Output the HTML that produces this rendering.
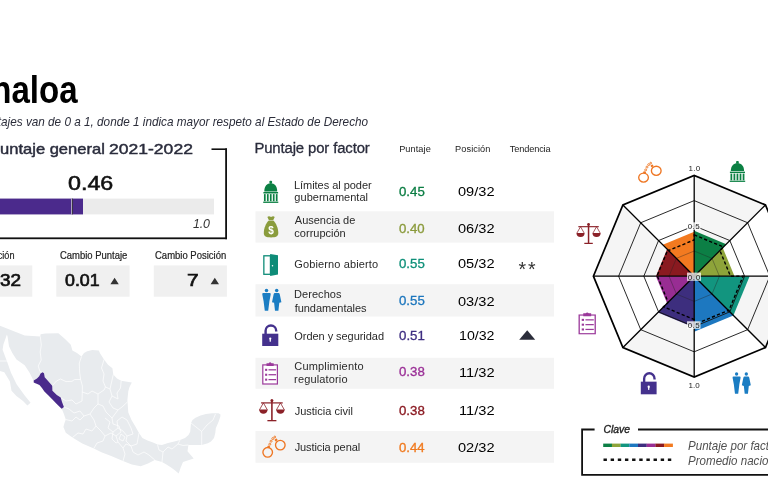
<!DOCTYPE html>
<html lang="es"><head><meta charset="utf-8"><title>Sinaloa</title>
<style>
html,body{margin:0;padding:0;background:#fff;}
body{width:768px;height:486px;position:relative;overflow:hidden;font-family:"Liberation Sans",sans-serif;}
.t{position:absolute;white-space:nowrap;line-height:1;}
.r{position:absolute;}
svg{position:absolute;left:0;top:0;overflow:visible;}
</style></head><body>
<svg width="768" height="486" viewBox="0 0 768 486"><rect x="255.5" y="211.3" width="298.50" height="31.30" fill="#f4f4f4"/><rect x="255.5" y="284.2" width="298.50" height="32.30" fill="#f4f4f4"/><rect x="255.5" y="357.8" width="298.50" height="31.00" fill="#f4f4f4"/><rect x="255.5" y="431" width="298.50" height="31.80" fill="#f4f4f4"/><rect x="211.5" y="148.4" width="15.50" height="1.60" fill="#111"/><rect x="225.2" y="148.4" width="1.80" height="90.80" fill="#111"/><rect x="-5" y="237.4" width="232.00" height="1.80" fill="#111"/><rect x="-29" y="198.6" width="243.00" height="15.80" fill="#ebebeb"/><rect x="-29" y="198.6" width="112.00" height="15.80" fill="#4b2a8c"/><rect x="71.3" y="198.6" width="0.80" height="15.80" fill="#d8d8d8"/><rect x="72.2" y="198.6" width="0.80" height="15.80" fill="#333"/><rect x="-5" y="265.4" width="37.30" height="31.30" fill="#f0f0f0"/><rect x="56.3" y="265.4" width="73.30" height="31.30" fill="#f0f0f0"/><rect x="153.8" y="265.4" width="73.10" height="31.30" fill="#f0f0f0"/></svg>
<div class="t" style="left:-39.96px;top:69px;line-height:42px;font-size:38px;color:#000;font-weight:bold;transform:scaleX(0.8700);transform-origin:0 50%;">Sinaloa</div>
<div class="t" style="left:-43.55px;top:114px;line-height:15px;font-size:12.8px;color:#2b2d3a;font-style:italic;transform:scaleX(0.9180);transform-origin:0 50%;">Los puntajes van de 0 a 1, donde 1 indica mayor respeto al Estado de Derecho</div>
<div class="t" style="left:-11.25px;top:140px;line-height:17px;font-size:15px;color:#2a2c3c;-webkit-text-stroke:0.45px #2a2c3c;transform:scaleX(1.1023);transform-origin:0 50%;">Puntaje general</div>
<div class="t" style="left:109.12px;top:140px;line-height:17px;font-size:15px;color:#2a2c3c;-webkit-text-stroke:0.45px #2a2c3c;transform:scaleX(1.1695);transform-origin:0 50%;">2021-2022</div>
<div class="t" style="left:67.97px;top:172px;line-height:22px;font-size:19.6px;color:#111;-webkit-text-stroke:0.55px #111;transform:scaleX(1.1873);transform-origin:0 50%;">0.46</div>
<div class="t" style="left:192.89px;top:217px;line-height:14px;font-size:12.4px;color:#333;font-style:italic;letter-spacing:-0.132px;">1.0</div>
<div class="t" style="left:-20.51px;top:250px;line-height:11px;font-size:10.2px;color:#222;-webkit-text-stroke:0.2px #222;transform:scaleX(0.8950);transform-origin:0 50%;">Posición</div>
<div class="t" style="left:60.03px;top:250px;line-height:11px;font-size:10.2px;color:#222;-webkit-text-stroke:0.2px #222;transform:scaleX(0.9287);transform-origin:0 50%;">Cambio Puntaje</div>
<div class="t" style="left:155.13px;top:250px;line-height:11px;font-size:10.2px;color:#222;-webkit-text-stroke:0.2px #222;transform:scaleX(0.9313);transform-origin:0 50%;">Cambio Posición</div>
<div class="t" style="left:-0.26px;top:270px;line-height:20px;font-size:17.4px;color:#111;-webkit-text-stroke:0.7px #111;transform:scaleX(1.0874);transform-origin:0 50%;">32</div>
<div class="t" style="left:65.09px;top:270px;line-height:20px;font-size:17.4px;color:#111;-webkit-text-stroke:0.7px #111;transform:scaleX(1.0227);transform-origin:0 50%;">0.01</div>
<div class="t" style="left:186.86px;top:270px;line-height:20px;font-size:17.4px;color:#111;-webkit-text-stroke:0.7px #111;transform:scaleX(1.1999);transform-origin:0 50%;">7</div>
<svg width="768" height="486" viewBox="0 0 768 486"><path d="M110.4 284.3 L118.8 284.3 L114.6 277.8 Z M210.6 284.3 L219 284.3 L214.8 277.8 Z" fill="#333"/><path d="M519.2 339.7 L535.2 339.7 L527.2 330.3 Z" fill="#2b2d3a"/></svg>
<div class="t" style="left:254.41px;top:140px;line-height:16px;font-size:14.9px;color:#2a2c3c;letter-spacing:-0.126px;-webkit-text-stroke:0.3px #2a2c3c;">Puntaje por factor</div>
<div class="t" style="left:399.16px;top:144px;line-height:10px;font-size:9.2px;color:#222;letter-spacing:0.077px;">Puntaje</div>
<div class="t" style="left:455.06px;top:144px;line-height:10px;font-size:9.2px;color:#222;letter-spacing:0.094px;">Posición</div>
<div class="t" style="left:509.72px;top:144px;line-height:10px;font-size:9.2px;color:#222;letter-spacing:-0.121px;">Tendencia</div>
<div class="t" style="left:293.92px;top:179px;line-height:12px;font-size:11.0px;color:#2a2a2a;letter-spacing:-0.031px;">Límites al poder</div>
<div class="t" style="left:294.36px;top:191px;line-height:12px;font-size:11.0px;color:#2a2a2a;letter-spacing:0.024px;">gubernamental</div>
<div class="t" style="left:398.87px;top:185px;line-height:14px;font-size:12.4px;color:#0b7d43;-webkit-text-stroke:0.3px #0b7d43;transform:scaleX(1.0681);transform-origin:0 50%;">0.45</div>
<div class="t" style="left:457.82px;top:184px;line-height:15px;font-size:12.8px;color:#000;transform:scaleX(1.1411);transform-origin:0 50%;">09/32</div>
<div class="t" style="left:294.80px;top:214px;line-height:12px;font-size:11.0px;color:#2a2a2a;">Ausencia de</div>
<div class="t" style="left:294.36px;top:227px;line-height:12px;font-size:11.0px;color:#2a2a2a;">corrupción</div>
<div class="t" style="left:398.87px;top:222px;line-height:14px;font-size:12.4px;color:#8a9a3b;-webkit-text-stroke:0.3px #8a9a3b;transform:scaleX(1.0652);transform-origin:0 50%;">0.40</div>
<div class="t" style="left:457.82px;top:221px;line-height:15px;font-size:12.8px;color:#000;transform:scaleX(1.1411);transform-origin:0 50%;">06/32</div>
<div class="t" style="left:294.25px;top:258px;line-height:12px;font-size:11.0px;color:#2a2a2a;letter-spacing:0.129px;">Gobierno abierto</div>
<div class="t" style="left:398.87px;top:257px;line-height:14px;font-size:12.4px;color:#0f9079;-webkit-text-stroke:0.3px #0f9079;transform:scaleX(1.0681);transform-origin:0 50%;">0.55</div>
<div class="t" style="left:457.82px;top:256px;line-height:15px;font-size:12.8px;color:#000;transform:scaleX(1.1411);transform-origin:0 50%;">05/32</div>
<div class="t" style="left:293.92px;top:288px;line-height:12px;font-size:11.0px;color:#2a2a2a;letter-spacing:0.084px;">Derechos</div>
<div class="t" style="left:294.63px;top:302px;line-height:12px;font-size:11.0px;color:#2a2a2a;letter-spacing:-0.018px;">fundamentales</div>
<div class="t" style="left:398.87px;top:294px;line-height:14px;font-size:12.4px;color:#1c76bd;-webkit-text-stroke:0.3px #1c76bd;transform:scaleX(1.0681);transform-origin:0 50%;">0.55</div>
<div class="t" style="left:457.82px;top:294px;line-height:15px;font-size:12.8px;color:#000;transform:scaleX(1.1411);transform-origin:0 50%;">03/32</div>
<div class="t" style="left:294.31px;top:330px;line-height:12px;font-size:11.0px;color:#2a2a2a;letter-spacing:-0.048px;">Orden y seguridad</div>
<div class="t" style="left:398.87px;top:329px;line-height:14px;font-size:12.4px;color:#3f2f82;-webkit-text-stroke:0.3px #3f2f82;transform:scaleX(1.0709);transform-origin:0 50%;">0.51</div>
<div class="t" style="left:458.84px;top:328px;line-height:15px;font-size:12.8px;color:#000;transform:scaleX(1.1086);transform-origin:0 50%;">10/32</div>
<div class="t" style="left:294.25px;top:360px;line-height:12px;font-size:11.0px;color:#2a2a2a;letter-spacing:0.189px;">Cumplimiento</div>
<div class="t" style="left:294.09px;top:373px;line-height:12px;font-size:11.0px;color:#2a2a2a;letter-spacing:0.148px;">regulatorio</div>
<div class="t" style="left:398.87px;top:365px;line-height:14px;font-size:12.4px;color:#9a2f96;-webkit-text-stroke:0.3px #9a2f96;transform:scaleX(1.0681);transform-origin:0 50%;">0.38</div>
<div class="t" style="left:458.80px;top:365px;line-height:15px;font-size:12.8px;color:#000;transform:scaleX(1.1447);transform-origin:0 50%;">11/32</div>
<div class="t" style="left:294.63px;top:405px;line-height:12px;font-size:11.0px;color:#2a2a2a;letter-spacing:0.012px;">Justicia civil</div>
<div class="t" style="left:398.87px;top:404px;line-height:14px;font-size:12.4px;color:#8b1a22;-webkit-text-stroke:0.3px #8b1a22;transform:scaleX(1.0681);transform-origin:0 50%;">0.38</div>
<div class="t" style="left:458.80px;top:403px;line-height:15px;font-size:12.8px;color:#000;transform:scaleX(1.1447);transform-origin:0 50%;">11/32</div>
<div class="t" style="left:294.63px;top:441px;line-height:12px;font-size:11.0px;color:#2a2a2a;letter-spacing:-0.087px;">Justicia penal</div>
<div class="t" style="left:398.87px;top:441px;line-height:14px;font-size:12.4px;color:#f07a1f;-webkit-text-stroke:0.3px #f07a1f;transform:scaleX(1.0624);transform-origin:0 50%;">0.44</div>
<div class="t" style="left:457.82px;top:440px;line-height:15px;font-size:12.8px;color:#000;transform:scaleX(1.1411);transform-origin:0 50%;">02/32</div>
<div class="t" style="left:518.61px;top:258px;line-height:22px;font-size:19.5px;color:#333;letter-spacing:1.775px;">**</div>
<svg width="768" height="486" viewBox="0 0 768 486">
<path d="M694.20 276.20 L694.20 175.40 L765.48 204.92 Z" fill="#f5f5f5"/>
<path d="M694.20 276.20 L795.00 276.20 L765.48 347.48 Z" fill="#f5f5f5"/>
<path d="M694.20 276.20 L694.20 377.00 L622.92 347.48 Z" fill="#f5f5f5"/>
<path d="M694.20 276.20 L593.40 276.20 L622.92 204.92 Z" fill="#f5f5f5"/>
<path d="M694.20 276.20 L694.20 230.84 L726.27 244.13 Z" fill="#0c7f45"/>
<path d="M694.20 276.20 L722.71 247.69 L734.52 276.20 Z" fill="#8ea43a"/>
<path d="M694.20 276.20 L749.64 276.20 L733.40 315.40 Z" fill="#12957f"/>
<path d="M694.20 276.20 L733.40 315.40 L694.20 331.64 Z" fill="#1d78c0"/>
<path d="M694.20 276.20 L694.20 327.61 L657.85 312.55 Z" fill="#3d2e7e"/>
<path d="M694.20 276.20 L667.11 303.29 L655.90 276.20 Z" fill="#982d93"/>
<path d="M694.20 276.20 L655.90 276.20 L667.11 249.11 Z" fill="#8a1a20"/>
<path d="M694.20 276.20 L662.84 244.84 L694.20 231.85 Z" fill="#f37a20"/>
<path d="M719.40 276.20 L712.02 258.38 L694.20 251.00 L676.38 258.38 L669.00 276.20 L676.38 294.02 L694.20 301.40 L712.02 294.02 Z" fill="none" stroke="#222" stroke-width="0.7" stroke-opacity="0.55"/>
<path d="M744.60 276.20 L729.84 240.56 L694.20 225.80 L658.56 240.56 L643.80 276.20 L658.56 311.84 L694.20 326.60 L729.84 311.84 Z" fill="none" stroke="#111" stroke-width="0.9" stroke-opacity="1"/>
<path d="M769.80 276.20 L747.66 222.74 L694.20 200.60 L640.74 222.74 L618.60 276.20 L640.74 329.66 L694.20 351.80 L747.66 329.66 Z" fill="none" stroke="#111" stroke-width="0.9" stroke-opacity="1"/>
<path d="M694.2 276.2 L795.00 276.20" stroke="#000" stroke-width="1.3"/>
<path d="M694.2 276.2 L765.48 204.92" stroke="#000" stroke-width="1.3"/>
<path d="M694.2 276.2 L694.20 175.40" stroke="#000" stroke-width="1.3"/>
<path d="M694.2 276.2 L622.92 204.92" stroke="#000" stroke-width="1.3"/>
<path d="M694.2 276.2 L593.40 276.20" stroke="#000" stroke-width="1.3"/>
<path d="M694.2 276.2 L622.92 347.48" stroke="#000" stroke-width="1.3"/>
<path d="M694.2 276.2 L694.20 377.00" stroke="#000" stroke-width="1.3"/>
<path d="M694.2 276.2 L765.48 347.48" stroke="#000" stroke-width="1.3"/>
<path d="M795.00 276.20 L765.48 204.92 L694.20 175.40 L622.92 204.92 L593.40 276.20 L622.92 347.48 L694.20 377.00 L765.48 347.48 Z" fill="none" stroke="#000" stroke-width="1.7" stroke-linejoin="miter"/>
<path d="M694.20 234.87 L723.42 246.98 L719.86 250.54 L730.49 276.20 L743.09 276.20 L728.77 310.77 L728.41 310.41 L694.20 324.58 L694.20 319.54 L663.55 306.85 L668.18 302.22 L657.41 276.20 L656.90 276.20 L667.83 249.83 L668.54 250.54 L694.20 239.91 Z" fill="none" stroke="#000" stroke-width="1.4" stroke-dasharray="3.2 2.2"/>
<rect x="687" y="272.6" width="14" height="8.2" fill="#fff" fill-opacity="0.75"/>
<rect x="687" y="222.3" width="13.5" height="7.5" fill="#fff" fill-opacity="0.8"/>
<rect x="687" y="321.3" width="13.5" height="7.5" fill="#fff" fill-opacity="0.8"/>
</svg>
<div class="t" style="left:688.60px;top:164px;line-height:9px;font-size:8.0px;color:#222;letter-spacing:0.180px;">1.0</div>
<div class="t" style="left:687.68px;top:222px;line-height:9px;font-size:8.0px;color:#222;letter-spacing:0.460px;">0.5</div>
<div class="t" style="left:687.68px;top:273px;line-height:9px;font-size:8.0px;color:#222;letter-spacing:0.740px;">0.0</div>
<div class="t" style="left:687.68px;top:321px;line-height:9px;font-size:8.0px;color:#222;letter-spacing:0.460px;">0.5</div>
<div class="t" style="left:688.40px;top:381px;line-height:9px;font-size:8.0px;color:#222;letter-spacing:0.130px;">1.0</div>
<svg width="768" height="486" viewBox="0 0 768 486">
<svg x="263.2" y="180.7" width="15.10" height="22.20" viewBox="0 0 15 22.2" preserveAspectRatio="none" overflow="visible"><g fill="#0b8043"><rect x="6.2" y="0" width="2.6" height="3" rx="0.9"/><path d="M1.1 10.7 C1.1 5.2 3.8 2.5 7.5 2.5 C11.2 2.5 13.9 5.2 13.9 10.7 Z"/><rect x="0.2" y="11.3" width="14.6" height="1.5"/><rect x="0.75" y="13.4" width="1.7" height="7.1"/><rect x="3.70" y="13.4" width="1.7" height="7.1"/><rect x="6.65" y="13.4" width="1.7" height="7.1"/><rect x="9.60" y="13.4" width="1.7" height="7.1"/><rect x="12.55" y="13.4" width="1.7" height="7.1"/><rect x="0" y="20.9" width="15" height="1.3"/></g></svg>
<svg x="263.8" y="216" width="14.50" height="21.40" viewBox="0 0 14.5 21.4" preserveAspectRatio="none" overflow="visible"><g fill="#8a9c3d"><path d="M3.6 0.9 Q5 -0.2 7.25 0.9 Q9.5 -0.2 10.9 0.9 L9.5 3.9 L5 3.9 Z"/><path d="M5 4.5 L9.5 4.5 C12.2 7 14.5 12.2 14.5 17 C14.5 20.4 12 21.4 7.25 21.4 C2.5 21.4 0 20.4 0 17 C0 12.2 2.3 7 5 4.5 Z"/></g><text x="7.25" y="17.7" font-family="Liberation Sans, sans-serif" font-weight="bold" font-size="10" text-anchor="middle" fill="#fff">$</text></svg>
<svg x="263.2" y="254" width="14.80" height="22.00" viewBox="0 0 14.8 22" preserveAspectRatio="none" overflow="visible"><rect x="0.65" y="1.8" width="6.6" height="18.5" fill="#fff" stroke="#0e8c78" stroke-width="1.3"/><path d="M6.9 0 L14.8 1.2 L14.8 20.6 L6.9 22 Z" fill="#0e8c78"/><circle cx="9.3" cy="11.8" r="0.75" fill="#fff"/></svg>
<svg x="261.9" y="288.6" width="19.70" height="22.20" viewBox="0 0 19.7 22.2" preserveAspectRatio="none" overflow="visible"><g fill="#1b7dc3"><circle cx="4.6" cy="2" r="1.75"/><path d="M1.4 4.5 L7.8 4.5 Q9 4.5 8.8 5.8 L7.5 12.6 L6.3 22.2 L2.9 22.2 L1.7 12.6 L0.4 5.8 Q0.2 4.5 1.4 4.5 Z"/><circle cx="14.8" cy="2" r="1.75"/><path d="M13 4.5 L16.6 4.5 Q17.6 4.5 17.9 5.8 L19.5 13.6 L17.4 14.2 L16.5 22.2 L13.1 22.2 L12.2 14.2 L10.1 13.6 L11.7 5.8 Q12 4.5 13 4.5 Z"/></g></svg>
<svg x="262.2" y="324.3" width="16.10" height="21.70" viewBox="0 0 16.1 21.7" preserveAspectRatio="none" overflow="visible"><rect x="0" y="9.4" width="16.1" height="12.3" fill="#44318d"/><path d="M3.4 9.8 L3.4 6.5 A5.3 5.3 0 0 1 14 6.5 L14 7.2" fill="none" stroke="#44318d" stroke-width="2.4"/><circle cx="8.05" cy="14.3" r="1.15" fill="#fff"/><rect x="7.4" y="14.6" width="1.3" height="2.8" fill="#fff"/></svg>
<svg x="261.9" y="362" width="16.40" height="22.60" viewBox="0 0 16.4 22.6" preserveAspectRatio="none" overflow="visible"><rect x="0.9" y="2.9" width="14.6" height="19.1" fill="#fff" stroke="#9b3a9b" stroke-width="1.2"/><g fill="#9b3a9b"><path d="M4.6 1.2 L6.8 1.2 Q8.2 -0.6 9.6 1.2 L11.8 1.2 L11.8 4.1 L4.6 4.1 Z"/><rect x="3.2" y="6.80" width="2.1" height="2.1"/><rect x="6.6" y="7.20" width="7.6" height="1.25"/><rect x="3.2" y="11.70" width="2.1" height="2.1"/><rect x="6.6" y="12.10" width="7.6" height="1.25"/><rect x="3.2" y="16.60" width="2.1" height="2.1"/><rect x="6.6" y="17.00" width="7.6" height="1.25"/></g></svg>
<svg x="258.9" y="399" width="26.00" height="22.30" viewBox="0 0 26.6 22.3" preserveAspectRatio="none" overflow="visible"><g fill="#8b2128"><circle cx="13.3" cy="1.5" r="1.5"/><rect x="12.5" y="1.5" width="1.6" height="20"/><rect x="2.2" y="3.3" width="22.2" height="1.2"/><rect x="8.7" y="21" width="9.2" height="1.3"/></g><path d="M4.6 3.9 L0.5999999999999996 10.8 M4.6 3.9 L8.6 10.8" fill="none" stroke="#8b2128" stroke-width="0.8"/><path d="M0.1999999999999993 10.6 L9.0 10.6 A4.4 4.2 0 0 1 0.1999999999999993 10.6 Z" fill="#8b2128"/><path d="M22 3.9 L18 10.8 M22 3.9 L26 10.8" fill="none" stroke="#8b2128" stroke-width="0.8"/><path d="M17.6 10.6 L26.4 10.6 A4.4 4.2 0 0 1 17.6 10.6 Z" fill="#8b2128"/></svg>
<svg x="262.2" y="435.6" width="23.50" height="22.20" viewBox="0 0 23.5 22.2" preserveAspectRatio="none" overflow="visible"><g fill="none" stroke="#ee7623" stroke-width="1.35"><circle cx="5.5" cy="16.7" r="4.8"/><circle cx="18.1" cy="9.5" r="4.8"/><circle cx="7.6" cy="8.6" r="1" stroke-width="0.9"/><circle cx="8.9" cy="5.6" r="1" stroke-width="0.9"/><circle cx="10.6" cy="3.0" r="1" stroke-width="0.9"/><circle cx="12.6" cy="1.4" r="0.9" stroke-width="0.9"/></g><g fill="#ee7623"><rect x="5.2" y="10.2" width="2.6" height="2.2" rx="0.5" transform="rotate(20 6.5 11.3)"/><rect x="12.6" y="3.2" width="2.6" height="2.2" rx="0.5" transform="rotate(-35 13.9 4.3)"/></g></svg>
<svg x="729.7" y="161" width="15.50" height="20.90" viewBox="0 0 15 22.2" preserveAspectRatio="none" overflow="visible"><g fill="#0b8043"><rect x="6.2" y="0" width="2.6" height="3" rx="0.9"/><path d="M1.1 10.7 C1.1 5.2 3.8 2.5 7.5 2.5 C11.2 2.5 13.9 5.2 13.9 10.7 Z"/><rect x="0.2" y="11.3" width="14.6" height="1.5"/><rect x="0.75" y="13.4" width="1.7" height="7.1"/><rect x="3.70" y="13.4" width="1.7" height="7.1"/><rect x="6.65" y="13.4" width="1.7" height="7.1"/><rect x="9.60" y="13.4" width="1.7" height="7.1"/><rect x="12.55" y="13.4" width="1.7" height="7.1"/><rect x="0" y="20.9" width="15" height="1.3"/></g></svg>
<svg x="732.2" y="372" width="18.80" height="21.70" viewBox="0 0 19.7 22.2" preserveAspectRatio="none" overflow="visible"><g fill="#1b7dc3"><circle cx="4.6" cy="2" r="1.75"/><path d="M1.4 4.5 L7.8 4.5 Q9 4.5 8.8 5.8 L7.5 12.6 L6.3 22.2 L2.9 22.2 L1.7 12.6 L0.4 5.8 Q0.2 4.5 1.4 4.5 Z"/><circle cx="14.8" cy="2" r="1.75"/><path d="M13 4.5 L16.6 4.5 Q17.6 4.5 17.9 5.8 L19.5 13.6 L17.4 14.2 L16.5 22.2 L13.1 22.2 L12.2 14.2 L10.1 13.6 L11.7 5.8 Q12 4.5 13 4.5 Z"/></g></svg>
<svg x="640.8" y="372" width="15.80" height="22.30" viewBox="0 0 16.1 21.7" preserveAspectRatio="none" overflow="visible"><rect x="0" y="9.4" width="16.1" height="12.3" fill="#44318d"/><path d="M3.4 9.8 L3.4 6.5 A5.3 5.3 0 0 1 14 6.5 L14 7.2" fill="none" stroke="#44318d" stroke-width="2.4"/><circle cx="8.05" cy="14.3" r="1.15" fill="#fff"/><rect x="7.4" y="14.6" width="1.3" height="2.8" fill="#fff"/></svg>
<svg x="578.2" y="312.2" width="18.00" height="22.10" viewBox="0 0 16.4 22.6" preserveAspectRatio="none" overflow="visible"><rect x="0.9" y="2.9" width="14.6" height="19.1" fill="#fff" stroke="#9b3a9b" stroke-width="1.2"/><g fill="#9b3a9b"><path d="M4.6 1.2 L6.8 1.2 Q8.2 -0.6 9.6 1.2 L11.8 1.2 L11.8 4.1 L4.6 4.1 Z"/><rect x="3.2" y="6.80" width="2.1" height="2.1"/><rect x="6.6" y="7.20" width="7.6" height="1.25"/><rect x="3.2" y="11.70" width="2.1" height="2.1"/><rect x="6.6" y="12.10" width="7.6" height="1.25"/><rect x="3.2" y="16.60" width="2.1" height="2.1"/><rect x="6.6" y="17.00" width="7.6" height="1.25"/></g></svg>
<svg x="576.3" y="223" width="24.50" height="21.00" viewBox="0 0 26.6 22.3" preserveAspectRatio="none" overflow="visible"><g fill="#8b2128"><circle cx="13.3" cy="1.5" r="1.5"/><rect x="12.5" y="1.5" width="1.6" height="20"/><rect x="2.2" y="3.3" width="22.2" height="1.2"/><rect x="8.7" y="21" width="9.2" height="1.3"/></g><path d="M4.6 3.9 L0.5999999999999996 10.8 M4.6 3.9 L8.6 10.8" fill="none" stroke="#8b2128" stroke-width="0.8"/><path d="M0.1999999999999993 10.6 L9.0 10.6 A4.4 4.2 0 0 1 0.1999999999999993 10.6 Z" fill="#8b2128"/><path d="M22 3.9 L18 10.8 M22 3.9 L26 10.8" fill="none" stroke="#8b2128" stroke-width="0.8"/><path d="M17.6 10.6 L26.4 10.6 A4.4 4.2 0 0 1 17.6 10.6 Z" fill="#8b2128"/></svg>
<svg x="638" y="161.8" width="23.70" height="21.00" viewBox="0 0 23.5 22.2" preserveAspectRatio="none" overflow="visible"><g fill="none" stroke="#ee7623" stroke-width="1.35"><circle cx="5.5" cy="16.7" r="4.8"/><circle cx="18.1" cy="9.5" r="4.8"/><circle cx="7.6" cy="8.6" r="1" stroke-width="0.9"/><circle cx="8.9" cy="5.6" r="1" stroke-width="0.9"/><circle cx="10.6" cy="3.0" r="1" stroke-width="0.9"/><circle cx="12.6" cy="1.4" r="0.9" stroke-width="0.9"/></g><g fill="#ee7623"><rect x="5.2" y="10.2" width="2.6" height="2.2" rx="0.5" transform="rotate(20 6.5 11.3)"/><rect x="12.6" y="3.2" width="2.6" height="2.2" rx="0.5" transform="rotate(-35 13.9 4.3)"/></g></svg>
</svg>
<svg width="768" height="486" viewBox="0 0 768 486">
<path d="M-2.00 325.00 L0.00 325.80 L24.70 335.60 L40.30 336.50 L40.60 334.20 L45.30 333.50 L58.40 333.30 L65.00 339.00 L70.80 344.70 L72.40 350.50 L77.00 353.00 L81.50 356.50 L84.00 353.00 L87.20 351.30 L92.20 350.00 L98.80 350.50 L100.00 353.30 L104.00 359.50 L108.00 364.80 L112.40 368.30 L113.30 374.50 L117.00 378.50 L121.20 380.70 L131.80 382.40 L129.50 387.00 L128.30 391.30 L127.40 400.00 L128.30 412.40 L131.50 420.00 L135.40 426.50 L139.00 433.00 L142.40 438.00 L147.50 440.50 L153.00 442.40 L157.50 444.60 L162.00 445.00 L168.00 443.00 L174.30 441.60 L180.00 440.00 L185.00 438.00 L188.50 435.00 L190.20 431.80 L191.00 423.00 L192.50 420.00 L195.50 417.70 L200.50 415.50 L206.00 414.00 L212.00 413.20 L218.50 413.30 L220.50 414.50 L220.30 416.80 L218.50 422.00 L215.80 428.30 L215.30 433.00 L214.00 438.00 L211.00 441.50 L207.90 443.30 L201.70 445.00 L188.40 445.00 L187.50 451.30 L193.70 458.40 L183.00 462.00 L180.50 468.00 L178.70 473.40 L174.50 470.00 L170.70 467.20 L166.00 464.30 L162.00 462.00 L154.80 460.00 L148.00 463.50 L140.70 466.30 L131.80 464.60 L123.00 461.00 L110.60 455.70 L102.00 452.50 L93.80 448.50 L82.30 443.60 L72.40 437.60 L65.80 432.70 L63.40 427.00 L64.50 423.00 L65.80 419.50 L63.50 413.00 L61.70 408.80 L52.70 399.80 L44.40 391.50 L39.50 385.00 L33.70 381.00 L29.60 372.70 L24.70 365.30 L16.50 359.50 L12.30 353.00 L9.00 346.30 L7.60 336.80 L6.90 334.60 L5.60 338.20 L3.40 344.50 L2.60 349.70 L7.40 362.50 L11.00 372.70 L16.60 384.20 L24.70 395.40 L30.60 402.80 L27.40 405.60 L23.00 400.90 L16.40 396.00 L11.50 390.80 L9.90 381.50 L4.30 372.20 L0.00 371.00 L-2.00 371.00 Z" fill="#e8ebee"/>
<path d="M0.00 361.00 L7.00 361.00" fill="none" stroke="#fff" stroke-width="0.7" stroke-linejoin="round"/>
<path d="M40.30 336.50 L41.30 345.00 L40.20 352.00 L41.20 360.00 L38.20 366.00 L40.00 371.50 L42.50 372.30" fill="none" stroke="#fff" stroke-width="0.7" stroke-linejoin="round"/>
<path d="M81.50 356.50 L79.30 363.00 L79.60 372.00 L80.60 379.50" fill="none" stroke="#fff" stroke-width="0.7" stroke-linejoin="round"/>
<path d="M52.20 385.80 L56.50 381.00 L60.50 379.00 L66.00 381.60 L72.00 381.30 L74.60 379.50 L80.60 379.50 L82.40 386.00 L82.30 392.00" fill="none" stroke="#fff" stroke-width="0.7" stroke-linejoin="round"/>
<path d="M104.00 359.50 L101.50 368.00 L104.00 374.00 L103.00 381.00 L105.50 387.00 L110.00 389.00 L113.30 374.50" fill="none" stroke="#fff" stroke-width="0.7" stroke-linejoin="round"/>
<path d="M82.30 392.00 L88.00 394.00 L92.00 391.00 L98.00 394.00 L104.00 390.00 L105.50 387.00" fill="none" stroke="#fff" stroke-width="0.7" stroke-linejoin="round"/>
<path d="M110.00 389.00 L112.00 396.00 L109.00 402.00 L113.00 408.00 L118.00 410.00 L122.00 407.00 L127.40 402.00" fill="none" stroke="#fff" stroke-width="0.7" stroke-linejoin="round"/>
<path d="M60.70 397.60 L66.00 401.00 L72.00 400.00 L76.00 404.00 L82.00 401.00 L82.30 392.00" fill="none" stroke="#fff" stroke-width="0.7" stroke-linejoin="round"/>
<path d="M63.90 407.00 L69.00 409.00 L74.00 413.00 L80.00 411.00 L84.00 416.00 L90.00 414.00 L94.00 408.00 L98.00 404.00 L98.00 394.00" fill="none" stroke="#fff" stroke-width="0.7" stroke-linejoin="round"/>
<path d="M65.80 419.50 L72.00 421.00 L76.00 417.00 L80.00 420.00 L84.00 416.00" fill="none" stroke="#fff" stroke-width="0.7" stroke-linejoin="round"/>
<path d="M72.40 437.60 L78.00 433.00 L83.00 434.00 L86.00 429.00 L92.00 431.00 L96.00 426.00 L94.00 420.00 L90.00 414.00" fill="none" stroke="#fff" stroke-width="0.7" stroke-linejoin="round"/>
<path d="M93.80 448.50 L97.00 443.00 L103.00 441.00 L105.00 436.00 L101.00 431.00 L96.00 426.00" fill="none" stroke="#fff" stroke-width="0.7" stroke-linejoin="round"/>
<path d="M105.00 436.00 L111.00 433.00 L116.00 436.00 L121.00 432.00 L119.00 426.00 L113.00 424.00 L112.00 418.00 L118.00 410.00" fill="none" stroke="#fff" stroke-width="0.7" stroke-linejoin="round"/>
<path d="M123.00 461.00 L125.00 454.00 L123.00 448.00 L126.00 444.00 L131.00 446.00 L137.00 444.00 L139.00 433.00" fill="none" stroke="#fff" stroke-width="0.7" stroke-linejoin="round"/>
<path d="M116.00 436.00 L118.00 442.00 L123.00 448.00" fill="none" stroke="#fff" stroke-width="0.7" stroke-linejoin="round"/>
<path d="M131.00 446.00 L133.00 452.00 L138.00 455.00 L144.00 452.00 L149.00 455.00 L154.80 460.00" fill="none" stroke="#fff" stroke-width="0.7" stroke-linejoin="round"/>
<path d="M157.50 444.60 L159.00 450.00 L163.00 452.00 L162.00 462.00" fill="none" stroke="#fff" stroke-width="0.7" stroke-linejoin="round"/>
<path d="M163.00 452.00 L168.00 447.00 L172.00 449.00 L178.00 444.00 L180.00 440.00" fill="none" stroke="#fff" stroke-width="0.7" stroke-linejoin="round"/>
<path d="M188.40 445.00 L183.00 445.50 L178.00 444.00" fill="none" stroke="#fff" stroke-width="0.7" stroke-linejoin="round"/>
<path d="M191.00 423.00 L196.00 427.00 L201.70 431.50 L201.70 445.00" fill="none" stroke="#fff" stroke-width="0.7" stroke-linejoin="round"/>
<path d="M201.70 431.50 L207.00 425.00 L213.00 420.00 L215.50 414.00" fill="none" stroke="#fff" stroke-width="0.7" stroke-linejoin="round"/>
<path d="M121.20 380.70 L120.50 388.00 L117.00 393.00 L118.00 399.00 L112.00 396.00" fill="none" stroke="#fff" stroke-width="0.7" stroke-linejoin="round"/>
<path d="M98.00 404.00 L103.00 406.00 L106.00 412.00 L112.00 418.00" fill="none" stroke="#fff" stroke-width="0.7" stroke-linejoin="round"/>
<path d="M105.00 418.00 L110.00 422.00 L108.00 428.00 L113.00 432.00 L118.00 428.00 L123.00 431.00" fill="none" stroke="#fff" stroke-width="0.7" stroke-linejoin="round"/>
<path d="M118.00 428.00 L117.00 421.00 L122.00 417.00 L127.00 420.00" fill="none" stroke="#fff" stroke-width="0.7" stroke-linejoin="round"/>
<path d="M123.00 431.00 L127.00 436.00 L133.00 434.00 L131.00 428.00 L127.00 420.00" fill="none" stroke="#fff" stroke-width="0.7" stroke-linejoin="round"/>
<path d="M127.00 436.00 L126.00 441.00 L131.00 446.00" fill="none" stroke="#fff" stroke-width="0.7" stroke-linejoin="round"/>
<path d="M121.00 434.00 L119.00 439.00 L123.00 441.00 L125.00 437.00 L121.00 434.00" fill="none" stroke="#fff" stroke-width="0.7" stroke-linejoin="round"/>
<path d="M113.00 432.00 L112.00 439.00 L116.00 443.00 L118.00 442.00" fill="none" stroke="#fff" stroke-width="0.7" stroke-linejoin="round"/>
<path d="M33.70 380.60 L37.00 378.40 L39.20 376.20 L40.60 373.40 L42.50 372.20 L44.00 373.20 L44.70 377.20 L48.50 381.50 L52.20 385.80 L52.40 390.80 L56.80 395.00 L60.70 397.60 L62.00 402.00 L63.90 407.00 L61.70 408.80 L57.00 404.30 L52.70 399.80 L48.00 395.00 L44.40 391.50 L42.00 388.00 L39.50 385.00 L36.00 383.60 L33.70 382.60 Z" fill="#4a2a8b"/>
</svg>
<svg width="768" height="486" viewBox="0 0 768 486">
<path d="M594.6 429.5 L582.1 429.5 L582.1 474.8 L770 474.8" fill="none" stroke="#111" stroke-width="1.8"/>
<path d="M638 429.5 L770 429.5" fill="none" stroke="#111" stroke-width="1.8"/>
<rect x="603.20" y="443.6" width="8.80" height="3.4" fill="#0c7f45"/>
<rect x="611.90" y="443.6" width="8.80" height="3.4" fill="#8ea43a"/>
<rect x="620.60" y="443.6" width="8.80" height="3.4" fill="#12957f"/>
<rect x="629.30" y="443.6" width="8.80" height="3.4" fill="#1d78c0"/>
<rect x="638.00" y="443.6" width="8.80" height="3.4" fill="#3d2e7e"/>
<rect x="646.70" y="443.6" width="8.80" height="3.4" fill="#982d93"/>
<rect x="655.40" y="443.6" width="8.80" height="3.4" fill="#8a1a20"/>
<rect x="664.10" y="443.6" width="8.80" height="3.4" fill="#f37a20"/>
<path d="M603.5 459.7 L673 459.7" stroke="#111" stroke-width="2.4" stroke-dasharray="3.4 3.75"/>
</svg>
<div class="t" style="left:603.43px;top:424px;line-height:11px;font-size:10.4px;color:#222;-webkit-text-stroke:0.35px #222;font-style:italic;letter-spacing:-0.009px;">Clave</div>
<div class="t" style="left:687.55px;top:438px;line-height:15px;font-size:13px;color:#505050;font-style:italic;transform:scaleX(0.8900);transform-origin:0 50%;">Puntaje por factor</div>
<div class="t" style="left:687.55px;top:453px;line-height:15px;font-size:13px;color:#505050;font-style:italic;transform:scaleX(0.8900);transform-origin:0 50%;">Promedio nacional</div>
</body></html>
